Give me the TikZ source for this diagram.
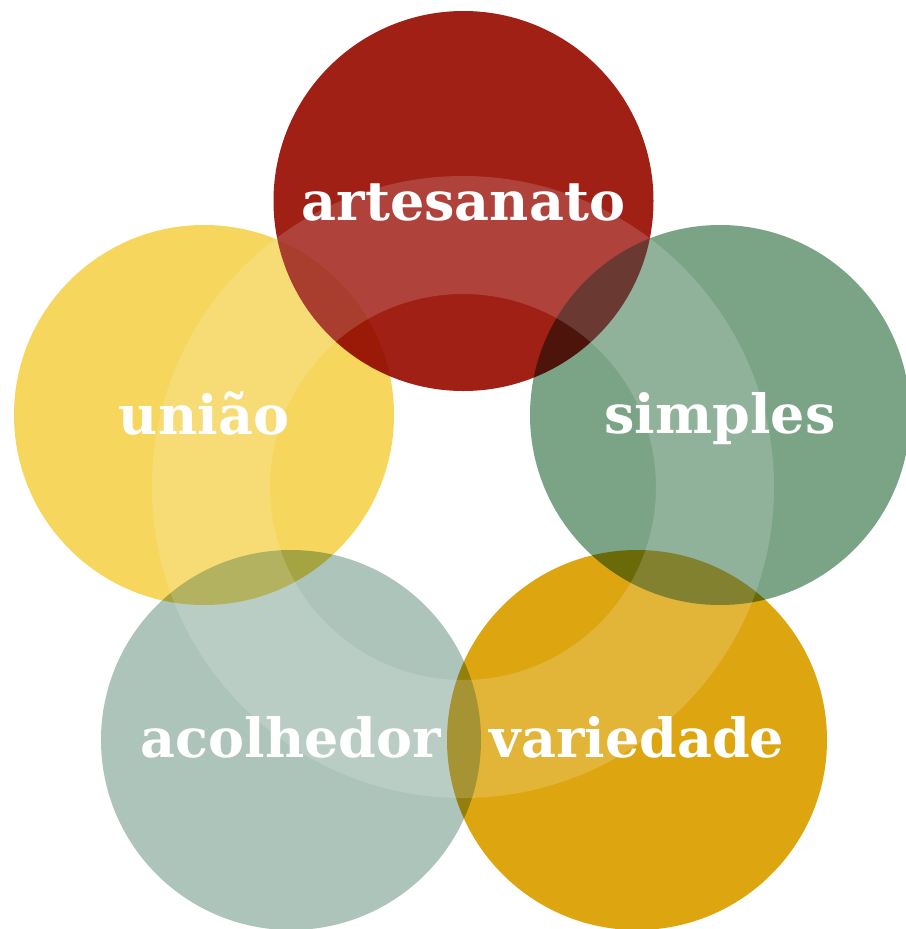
\documentclass[tikz,border=0pt]{standalone}
\usepackage{fontspec}
\setmainfont{DejaVu Serif}
\usetikzlibrary{calc}
\definecolor{cred}{RGB}{160,32,22}
\definecolor{cyellow}{RGB}{246,214,92}
\definecolor{cgreen}{RGB}{123,164,135}
\definecolor{cgray}{RGB}{172,196,185}
\definecolor{cgold}{RGB}{221,166,17}
\tikzset{
  bubble/.style={circle, minimum size=380pt, inner sep=0pt, draw=none},
  word/.style={text=white, font=\fontsize{54}{60}\selectfont\bfseries, inner sep=0pt, anchor=base}
}
\begin{document}
\begin{tikzpicture}[x=1pt,y=-1pt]
\useasboundingbox (0,0) rectangle (905,929);
\begin{scope}[blend group=multiply]
  \node[bubble, fill=cred]    (art) at (463.5,201) {};
  \node[bubble, fill=cyellow] (uni) at (204,415) {};
  \node[bubble, fill=cgreen]  (sim) at (720,415) {};
  \node[bubble, fill=cgray]   (aco) at (291,740) {};
  \node[bubble, fill=cgold]   (var) at (637,740) {};
\end{scope}
\coordinate (ctr) at (463,487);
\fill[white, fill opacity=0.16, even odd rule] (ctr) circle[radius=311] (ctr) circle[radius=193];
\node[word] (tart) at ($(art)+(0,19)$) {artesanato};
\node[word] (tuni) at ($(uni)+(0,19)$) {união};
\node[word] (tsim) at ($(sim)+(0,18)$) {simples};
\node[word] (taco) at ($(aco)+(0,17)$) {acolhedor};
\node[word] (tvar) at ($(var)+(0,17)$) {variedade};
\end{tikzpicture}
\end{document}
